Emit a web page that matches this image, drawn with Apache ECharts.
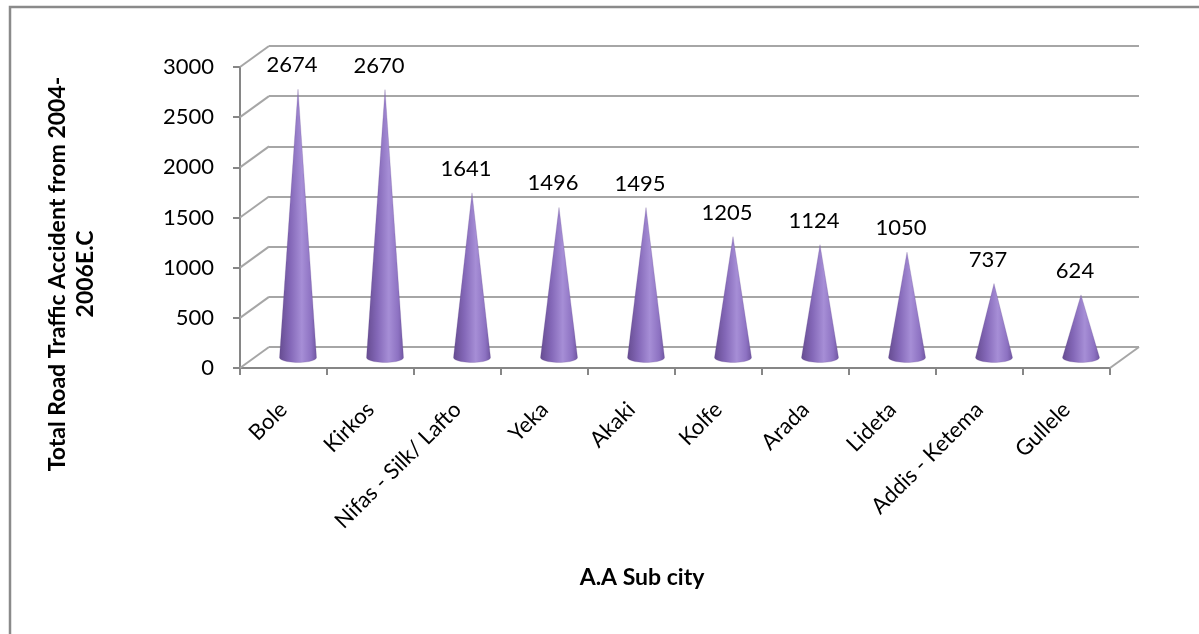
<!DOCTYPE html>
<html>
<head>
<meta charset="utf-8">
<script src="https://cdn.jsdelivr.net/npm/echarts@6/dist/echarts.min.js"></script>
<style>
  html, body { margin: 0; padding: 0; background: #ffffff; }
  #chart { width: 1199px; height: 634px; }
</style>
</head>
<body>
<div id="chart"></div>
<script>
// Sub cities of Addis Ababa and their total road traffic accidents (2004-2006 E.C)
const subCities = ['Bole', 'Kirkos', 'Nifas - Silk/ Lafto', 'Yeka', 'Akaki', 'Kolfe', 'Arada', 'Lideta', 'Addis - Ketema', 'Gullele'];
const accidents = [2674, 2670, 1641, 1496, 1495, 1205, 1124, 1050, 737, 624];
const yTicks = [0, 500, 1000, 1500, 2000, 2500, 3000];
const yAxisTitle = 'Total Road Traffic Accident from 2004-\n2006E.C';
const xAxisTitle = 'A.A Sub city';

// Pseudo-3D depth of the plot box (back wall is shifted right/up)
const DEPTH_X = 29;
const DEPTH_Y = 21;
const CONE_RADIUS = 18.5;
const CONE_ELLIPSE = 5;
const WALL_COLOR = '#a6a6a6';
const AXIS_COLOR = '#868686';
const FONT = 'Lato, "Open Sans", sans-serif';

const chart = echarts.init(document.getElementById('chart'), null, { renderer: 'canvas' });

const coneFill = new echarts.graphic.LinearGradient(0, 0, 1, 0, [
  { offset: 0, color: '#654b90' },
  { offset: 0.3, color: '#8468b8' },
  { offset: 0.6, color: '#a68ed6' },
  { offset: 0.85, color: '#8d72c2' },
  { offset: 1, color: '#6f55a0' }
]);

function renderWalls(params, api) {
  const v = api.value(1);
  const p = api.coord([0, v]);
  const band = api.size([1, 0])[0];
  const x0 = p[0] - band / 2;
  const children = [{
    type: 'line',
    shape: { x1: x0, y1: p[1], x2: x0 + DEPTH_X, y2: p[1] - DEPTH_Y },
    style: { stroke: WALL_COLOR, lineWidth: 2 }
  }];
  if (v === yTicks[0]) {
    const pr = api.coord([subCities.length - 1, v]);
    const x1 = pr[0] + band / 2;
    children.push({
      type: 'line',
      shape: { x1: x1, y1: pr[1], x2: x1 + DEPTH_X, y2: pr[1] - DEPTH_Y },
      style: { stroke: WALL_COLOR, lineWidth: 2 }
    });
  }
  return { type: 'group', children: children };
}

function renderCone(params, api) {
  const idx = api.value(0);
  const val = api.value(1);
  const top = api.coord([idx, val]);
  const base = api.coord([idx, 0]);
  const cx = top[0] + DEPTH_X / 2;
  const ay = top[1] - DEPTH_Y / 2;
  const by = base[1] - DEPTH_Y / 2;
  const pts = [[cx, ay]];
  const steps = 24;
  for (let k = 0; k <= steps; k++) {
    const t = Math.PI * k / steps;
    pts.push([cx + CONE_RADIUS * Math.cos(t), by + CONE_ELLIPSE * Math.sin(t)]);
  }
  return {
    type: 'group',
    children: [
      {
        type: 'polygon',
        shape: { points: pts },
        style: { fill: coneFill, stroke: 'rgba(90,66,130,0.35)', lineWidth: 0.6 }
      },
      {
        type: 'text',
        x: cx - 6,
        y: ay - 24,
        style: {
          text: String(val),
          align: 'center',
          verticalAlign: 'middle',
          font: '22px ' + FONT,
          fill: '#000000'
        }
      }
    ]
  };
}

const option = {
  backgroundColor: '#ffffff',
  animation: false,
  grid: [
    // front plane
    { left: 240, right: 1199 - 1110, top: 67, bottom: 634 - 368 },
    // back wall
    { left: 240 + DEPTH_X, right: 1199 - 1110 - DEPTH_X, top: 67 - DEPTH_Y, bottom: 634 - 368 + DEPTH_Y }
  ],
  xAxis: [
    {
      type: 'category',
      gridIndex: 0,
      data: subCities,
      boundaryGap: true,
      axisLine: { show: true, lineStyle: { color: AXIS_COLOR, width: 2 } },
      axisTick: { show: true, length: 7, lineStyle: { color: AXIS_COLOR, width: 2 } },
      axisLabel: {
        interval: 0,
        rotate: 45,
        margin: 38,
        color: '#000000',
        fontFamily: FONT,
        fontSize: 22
      },
      splitLine: { show: false }
    },
    {
      type: 'category',
      gridIndex: 1,
      data: subCities,
      show: false
    }
  ],
  yAxis: [
    {
      type: 'value',
      gridIndex: 0,
      min: 0,
      max: 3000,
      interval: 500,
      axisLine: { show: true, lineStyle: { color: AXIS_COLOR, width: 2 } },
      axisTick: { show: true, length: 7, lineStyle: { color: AXIS_COLOR, width: 2 } },
      axisLabel: {
        margin: 26,
        color: '#000000',
        fontFamily: FONT,
        fontSize: 22,
        formatter: v => String(v)
      },
      splitLine: { show: false }
    },
    {
      type: 'value',
      gridIndex: 1,
      min: 0,
      max: 3000,
      interval: 500,
      axisLine: { show: false },
      axisTick: { show: false },
      axisLabel: { show: false },
      splitLine: { show: true, lineStyle: { color: WALL_COLOR, width: 2 } }
    }
  ],
  series: [
    {
      type: 'custom',
      name: 'walls',
      xAxisIndex: 0,
      yAxisIndex: 0,
      renderItem: renderWalls,
      data: yTicks.map(v => [0, v]),
      silent: true,
      z: 1
    },
    {
      type: 'custom',
      name: 'Total Road Traffic Accident',
      xAxisIndex: 0,
      yAxisIndex: 0,
      renderItem: renderCone,
      data: accidents.map((v, i) => [i, v]),
      z: 3
    }
  ],
  graphic: [
    {
      type: 'rect',
      shape: { x: 10, y: 7, width: 1300, height: 700 },
      style: { fill: 'none', stroke: '#8a8a8a', lineWidth: 2.5 },
      silent: true
    },
    {
      type: 'text',
      x: 72,
      y: 274,
      rotation: Math.PI / 2,
      style: {
        text: yAxisTitle,
        align: 'center',
        verticalAlign: 'middle',
        font: 'bold 23px ' + FONT,
        fill: '#000000',
        lineHeight: 28
      }
    },
    {
      type: 'text',
      x: 642,
      y: 578,
      style: {
        text: xAxisTitle,
        align: 'center',
        verticalAlign: 'middle',
        font: 'bold 23px ' + FONT,
        fill: '#000000'
      }
    }
  ]
};

chart.setOption(option);
</script>
</body>
</html>
